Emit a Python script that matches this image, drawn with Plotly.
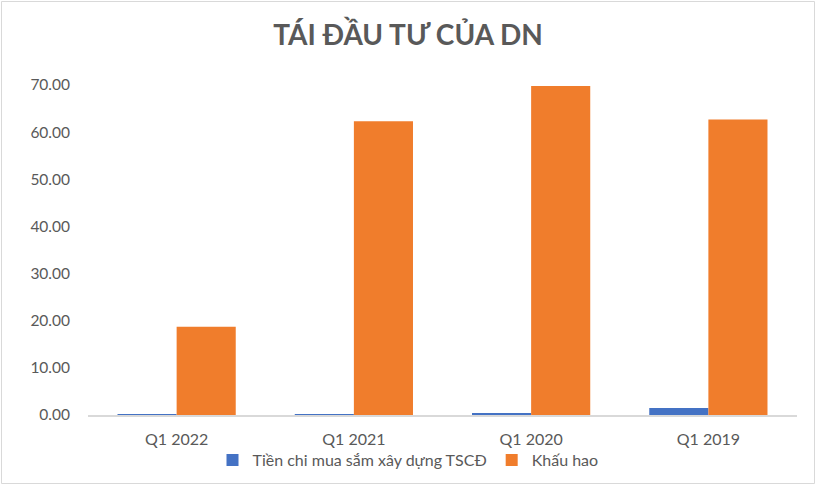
import plotly.graph_objects as go

categories = ["Q1 2022", "Q1 2021", "Q1 2020", "Q1 2019"]
tien_chi = [0.05, 0.05, 0.3, 1.5]
khau_hao = [18.7, 62.3, 69.8, 62.7]
series_names = ["Tiền chi mua sắm xây dựng TSCĐ", "Khấu hao"]
y_ticks = [0, 10, 20, 30, 40, 50, 60, 70]

W, H = 816, 485
ml, mr, mt, mb = 88, 19, 85, 70

fig = go.Figure()
fig.add_bar(x=categories, y=tien_chi, name=series_names[0],
            marker=dict(color="#4472C4", line=dict(width=0)))
fig.add_bar(x=categories, y=khau_hao, name=series_names[1],
            marker=dict(color="#F07D2C", line=dict(width=0)))

pw = W - ml - mr
ph = H - mt - mb
fig.add_shape(type="rect", xref="paper", yref="paper",
              x0=(1.5 - ml) / pw, x1=(W - 1.5 - ml) / pw,
              y0=-(mb - 1.5) / ph, y1=1 + (mt - 1.5) / ph,
              line=dict(color="#D9D9D9", width=1), layer="below")

fig.update_layout(
    width=W, height=H,
    margin=dict(l=ml, r=mr, t=mt, b=mb, autoexpand=False),
    paper_bgcolor="white", plot_bgcolor="white",
    barmode="group", bargap=0.333, bargroupgap=0,
    font=dict(family="Lato", color="#595959", size=16),
    title=dict(text="<b>TÁI ĐẦU TƯ CỦA DN</b>", x=0.5, xanchor="center",
               y=1 - 35 / H, yanchor="middle",
               font=dict(family="Lato", size=28, color="#595959")),
    legend=dict(orientation="h", xref="container", yref="container",
                x=0.5, xanchor="center", y=1 - 460 / H, yanchor="middle",
                bgcolor="rgba(0,0,0,0)",
                font=dict(size=16, color="#595959"), itemwidth=30,
                traceorder="normal"),
    xaxis=dict(showline=True, linecolor="#D9D9D9", linewidth=1.5,
               ticks="", showgrid=False, automargin=False,
               ticklabelstandoff=9,
               tickfont=dict(size=16, color="#595959")),
    yaxis=dict(range=[0, 70], tickvals=y_ticks, tickformat=".2f",
               showgrid=False, zeroline=False, showline=False, ticks="",
               automargin=False, ticklabelstandoff=17,
               tickfont=dict(size=15.5, color="#595959")),
)

fig.write_html("out.html", config={"displayModeBar": False},
               post_script="document.body.style.margin='0';document.body.style.padding='0';")
